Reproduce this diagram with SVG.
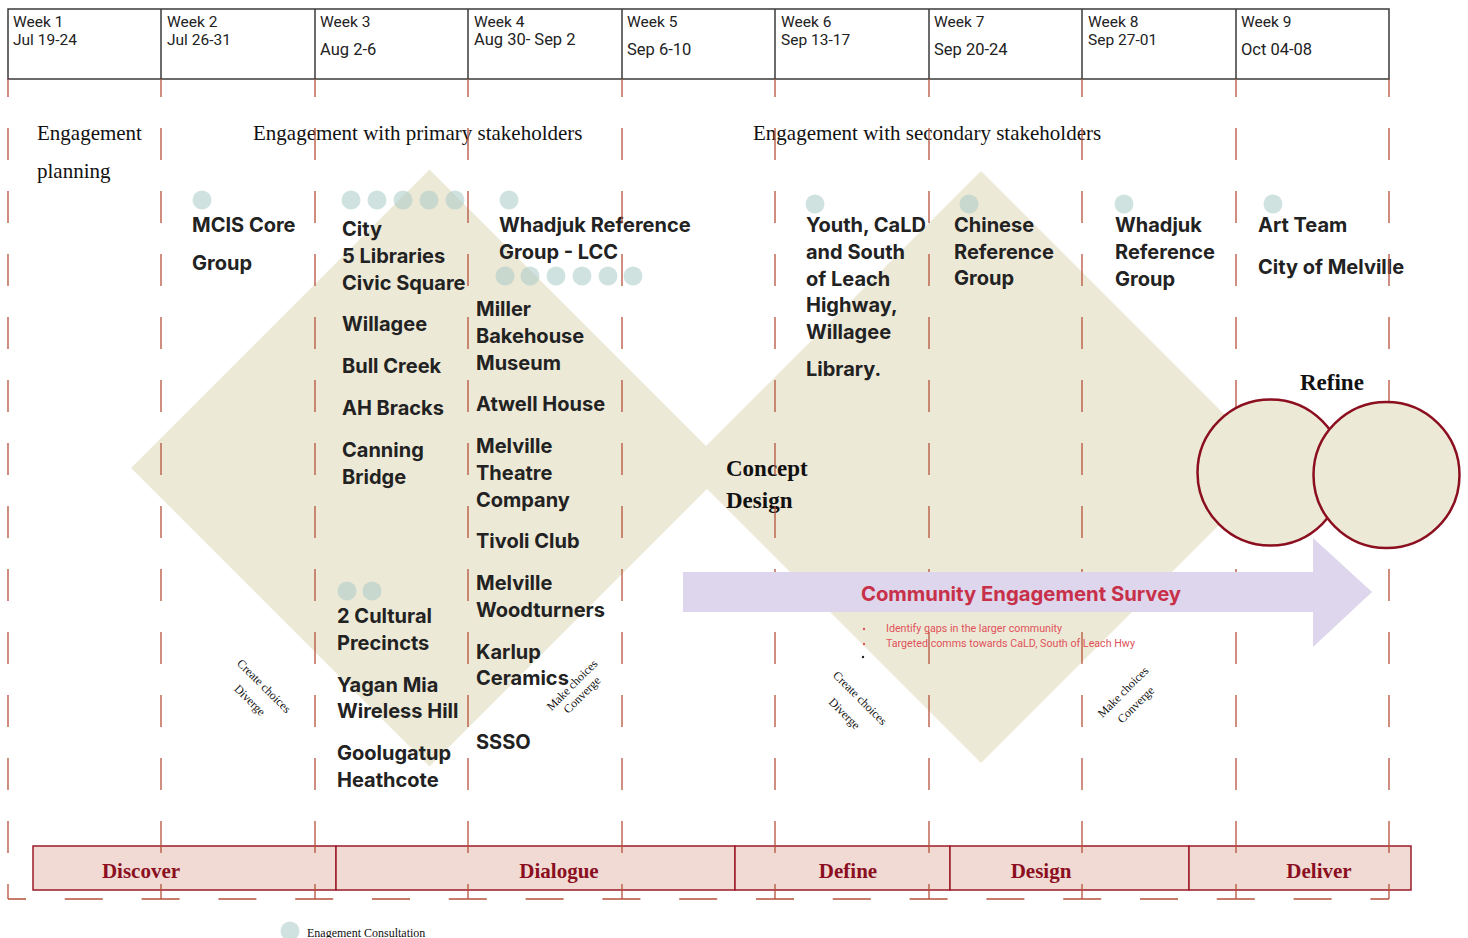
<svg xmlns="http://www.w3.org/2000/svg" width="1468" height="938" viewBox="0 0 1468 938">
  <style>
    .hdr { font-family: Roboto, "Liberation Sans", sans-serif; font-size: 15.5px; fill: #222; }
    .hdr2 { font-family: Roboto, "Liberation Sans", sans-serif; font-size: 16.5px; fill: #222; }
    .cell { fill: #fff; stroke: #3a3a3a; stroke-width: 1.5; }
    .title { font-family: "Liberation Serif", "DejaVu Serif", serif; font-size: 21px; fill: #111; }
    .lbl { font-family: Inter, "Liberation Sans", sans-serif; font-weight: 700; font-size: 20px; fill: #222; }
    .dot { fill: #a9cbc6; opacity: 0.55; }
    .diamond { fill: #ede9d7; }
    .grid { stroke: #b5523b; stroke-width: 1.3; fill: none; stroke-dasharray: 32 31; stroke-dashoffset: 14; }
    .rot { font-family: "Liberation Serif", "DejaVu Serif", serif; font-size: 12px; fill: #111; text-anchor: middle; }
    .big { font-family: "Liberation Serif", "DejaVu Serif", serif; font-weight: 700; font-size: 23px; fill: #111; }
    .phase rect { fill: #f0dad3; stroke: #9b1b2a; stroke-width: 1.5; }
    .phase text { font-family: "Liberation Serif", "DejaVu Serif", serif; font-weight: 700; font-size: 21px; fill: #8b0f1f; text-anchor: middle; }
    .bul { font-family: Roboto, "Liberation Sans", sans-serif; font-size: 10.7px; fill: #e0525a; }
  </style>

  <rect width="1468" height="938" fill="#fff"/>

  <!-- week header -->
  <g id="header">
    <rect class="cell" x="8" y="9" width="1381" height="70"/>
    <g stroke="#3a3a3a" stroke-width="1.5">
      <line x1="161" y1="9" x2="161" y2="79"/>
      <line x1="315" y1="9" x2="315" y2="79"/>
      <line x1="468" y1="9" x2="468" y2="79"/>
      <line x1="622" y1="9" x2="622" y2="79"/>
      <line x1="775" y1="9" x2="775" y2="79"/>
      <line x1="929" y1="9" x2="929" y2="79"/>
      <line x1="1082" y1="9" x2="1082" y2="79"/>
      <line x1="1236" y1="9" x2="1236" y2="79"/>
    </g>
    <text class="hdr" x="13" y="27">Week 1</text><text class="hdr" x="13" y="45">Jul 19-24</text>
    <text class="hdr" x="167" y="27">Week 2</text><text class="hdr" x="167" y="45">Jul 26-31</text>
    <text class="hdr" x="320" y="27">Week 3</text><text class="hdr2" x="320" y="55">Aug 2-6</text>
    <text class="hdr" x="474" y="27">Week 4</text><text class="hdr2" x="474" y="45">Aug 30- Sep 2</text>
    <text class="hdr" x="627" y="27">Week 5</text><text class="hdr2" x="627" y="55">Sep 6-10</text>
    <text class="hdr" x="781" y="27">Week 6</text><text class="hdr" x="781" y="45">Sep 13-17</text>
    <text class="hdr" x="934" y="27">Week 7</text><text class="hdr2" x="934" y="55">Sep 20-24</text>
    <text class="hdr" x="1088" y="27">Week 8</text><text class="hdr" x="1088" y="45">Sep 27-01</text>
    <text class="hdr" x="1241" y="27">Week 9</text><text class="hdr2" x="1241" y="55">Oct 04-08</text>
  </g>

  <!-- double diamond -->
  <g id="diamonds">
    <polygon class="diamond" points="131,468 429.5,169.5 728,468 429.5,766.5"/>
    <polygon class="diamond" points="685,467 981,171 1277,467 981,763"/>
  </g>

  <!-- section headings -->
  <g id="headings">
    <text class="title" x="37" y="140">Engagement</text>
    <text class="title" x="37" y="178">planning</text>
    <text class="title" x="253" y="140">Engagement with primary stakeholders</text>
    <text class="title" x="753" y="140">Engagement with secondary stakeholders</text>
  </g>

  <!-- consultation markers -->
  <g id="dots">
    <circle class="dot" cx="202" cy="200" r="9.5"/>
    <circle class="dot" cx="351" cy="200" r="9.5"/>
    <circle class="dot" cx="377" cy="200" r="9.5"/>
    <circle class="dot" cx="403" cy="200" r="9.5"/>
    <circle class="dot" cx="429" cy="200" r="9.5"/>
    <circle class="dot" cx="455" cy="200" r="9.5"/>
    <circle class="dot" cx="509" cy="200" r="9.5"/>
    <circle class="dot" cx="505" cy="276" r="9.5"/>
    <circle class="dot" cx="530" cy="276" r="9.5"/>
    <circle class="dot" cx="556" cy="276" r="9.5"/>
    <circle class="dot" cx="582" cy="276" r="9.5"/>
    <circle class="dot" cx="608" cy="276" r="9.5"/>
    <circle class="dot" cx="633" cy="276" r="9.5"/>
    <circle class="dot" cx="815" cy="204" r="9.5"/>
    <circle class="dot" cx="969" cy="204" r="9.5"/>
    <circle class="dot" cx="1124" cy="204" r="9.5"/>
    <circle class="dot" cx="1273" cy="204" r="9.5"/>
    <circle class="dot" cx="347" cy="591" r="9.5"/>
    <circle class="dot" cx="372" cy="591" r="9.5"/>
  </g>

  <!-- stakeholder groups -->
  <g id="mcis">
    <text class="lbl" x="192" y="232">MCIS Core</text>
    <text class="lbl" x="192" y="270">Group</text>
  </g>
  <g id="city-sites">
    <text class="lbl" x="342" y="236">City</text>
    <text class="lbl" x="342" y="263">5 Libraries</text>
    <text class="lbl" x="342" y="290">Civic Square</text>
    <text class="lbl" x="342" y="331">Willagee</text>
    <text class="lbl" x="342" y="373">Bull Creek</text>
    <text class="lbl" x="342" y="415">AH Bracks</text>
    <text class="lbl" x="342" y="457">Canning</text>
    <text class="lbl" x="342" y="484">Bridge</text>
  </g>
  <g id="cultural-precincts">
    <text class="lbl" x="337" y="623">2 Cultural</text>
    <text class="lbl" x="337" y="650">Precincts</text>
    <text class="lbl" x="337" y="692">Yagan Mia</text>
    <text class="lbl" x="337" y="718">Wireless Hill</text>
    <text class="lbl" x="337" y="760">Goolugatup</text>
    <text class="lbl" x="337" y="787">Heathcote</text>
  </g>
  <g id="whadjuk-lcc">
    <text class="lbl" x="499" y="232">Whadjuk Reference</text>
    <text class="lbl" x="499" y="259">Group - LCC</text>
  </g>
  <g id="community-groups">
    <text class="lbl" x="476" y="316">Miller</text>
    <text class="lbl" x="476" y="343">Bakehouse</text>
    <text class="lbl" x="476" y="370">Museum</text>
    <text class="lbl" x="476" y="411">Atwell House</text>
    <text class="lbl" x="476" y="453">Melville</text>
    <text class="lbl" x="476" y="480">Theatre</text>
    <text class="lbl" x="476" y="507">Company</text>
    <text class="lbl" x="476" y="548">Tivoli Club</text>
    <text class="lbl" x="476" y="590">Melville</text>
    <text class="lbl" x="476" y="617">Woodturners</text>
    <text class="lbl" x="476" y="659">Karlup</text>
    <text class="lbl" x="476" y="685">Ceramics</text>
    <text class="lbl" x="476" y="749">SSSO</text>
  </g>
  <g id="youth-cald">
    <text class="lbl" x="806" y="232">Youth, CaLD</text>
    <text class="lbl" x="806" y="259">and South</text>
    <text class="lbl" x="806" y="286">of Leach</text>
    <text class="lbl" x="806" y="312">Highway,</text>
    <text class="lbl" x="806" y="339">Willagee</text>
    <text class="lbl" x="806" y="376">Library.</text>
  </g>
  <g id="chinese-ref">
    <text class="lbl" x="954" y="232">Chinese</text>
    <text class="lbl" x="954" y="259">Reference</text>
    <text class="lbl" x="954" y="285">Group</text>
  </g>
  <g id="whadjuk-ref">
    <text class="lbl" x="1115" y="232">Whadjuk</text>
    <text class="lbl" x="1115" y="259">Reference</text>
    <text class="lbl" x="1115" y="286">Group</text>
  </g>
  <g id="art-team">
    <text class="lbl" x="1258" y="232">Art Team</text>
    <text class="lbl" x="1258" y="274">City of Melville</text>
  </g>

  <!-- diverge / converge notes -->
  <g id="notes">
    <g transform="translate(264,686) rotate(45)">
      <text class="rot" x="0" y="4">Create choices</text>
      <text class="rot" x="0" y="24">Diverge</text>
    </g>
    <g transform="translate(572,685) rotate(-45)">
      <text class="rot" x="0" y="4">Make choices</text>
      <text class="rot" x="0" y="18">Converge</text>
    </g>
    <g transform="translate(860,698) rotate(45)">
      <text class="rot" x="0" y="4">Create choices</text>
      <text class="rot" x="0" y="26">Diverge</text>
    </g>
    <g transform="translate(1123,692) rotate(-45)">
      <text class="rot" x="0" y="4">Make choices</text>
      <text class="rot" x="0" y="22">Converge</text>
    </g>
  </g>

  <g id="concept-design">
    <text class="big" x="726" y="476">Concept</text>
    <text class="big" x="726" y="508">Design</text>
  </g>

  <!-- survey bullets -->
  <g id="survey-notes">
    <circle cx="864" cy="629" r="1.2" fill="#e0525a"/>
    <text class="bul" x="886" y="632">Identify gaps in the larger community</text>
    <circle cx="864" cy="644" r="1.2" fill="#e0525a"/>
    <text class="bul" x="886" y="647">Targeted comms towards CaLD, South of Leach Hwy</text>
    <circle cx="863" cy="657" r="1.2" fill="#222"/>
  </g>

  <!-- phase bar -->
  <g id="phases" class="phase">
    <rect x="33" y="846" width="303" height="44"/>
    <rect x="336" y="846" width="399" height="44"/>
    <rect x="735" y="846" width="215" height="44"/>
    <rect x="950" y="846" width="239" height="44"/>
    <rect x="1189" y="846" width="222" height="44"/>
    <text x="141" y="878">Discover</text>
    <text x="559" y="878">Dialogue</text>
    <text x="848" y="878">Define</text>
    <text x="1041" y="878">Design</text>
    <text x="1319" y="878">Deliver</text>
  </g>

  <!-- dashed week grid -->
  <g id="connectors">
    <line class="grid" x1="8" y1="79" x2="8" y2="899"/>
    <line class="grid" x1="161" y1="79" x2="161" y2="899"/>
    <line class="grid" x1="315" y1="79" x2="315" y2="899"/>
    <line class="grid" x1="468" y1="79" x2="468" y2="899"/>
    <line class="grid" x1="622" y1="79" x2="622" y2="899"/>
    <line class="grid" x1="775" y1="79" x2="775" y2="899"/>
    <line class="grid" x1="929" y1="79" x2="929" y2="899"/>
    <line class="grid" x1="1082" y1="79" x2="1082" y2="899"/>
    <line class="grid" x1="1236" y1="79" x2="1236" y2="899"/>
    <line class="grid" x1="1389" y1="79" x2="1389" y2="899"/>
    <line x1="8" y1="899" x2="1389" y2="899" stroke="#b5523b" stroke-width="1.3" stroke-dasharray="38 38.8" stroke-dashoffset="20"/>
  </g>

  <!-- survey arrow -->
  <g id="survey">
    <polygon points="683,572 1313,572 1313,538 1372,592 1313,647 1313,612 683,612" fill="#ddd6ec"/>
    <text x="1021" y="601" text-anchor="middle" font-family="Inter, 'Liberation Sans', sans-serif" font-weight="700" font-size="20.3" fill="#c8304a">Community Engagement Survey</text>
  </g>

  <!-- refine loop -->
  <g id="refine">
    <circle cx="1270.5" cy="472.5" r="73" fill="#ede9d7" stroke="#8b0f1f" stroke-width="2.5"/>
    <circle cx="1386.5" cy="475" r="73" fill="#ede9d7" stroke="#8b0f1f" stroke-width="2.5"/>
    <text class="big" x="1300" y="390">Refine</text>
  </g>

  <!-- legend -->
  <g id="legend">
    <circle class="dot" cx="290" cy="931" r="9.5"/>
    <text x="307" y="937" font-family="'Liberation Serif', serif" font-size="12" fill="#111">Enagement Consultation</text>
  </g>
</svg>
